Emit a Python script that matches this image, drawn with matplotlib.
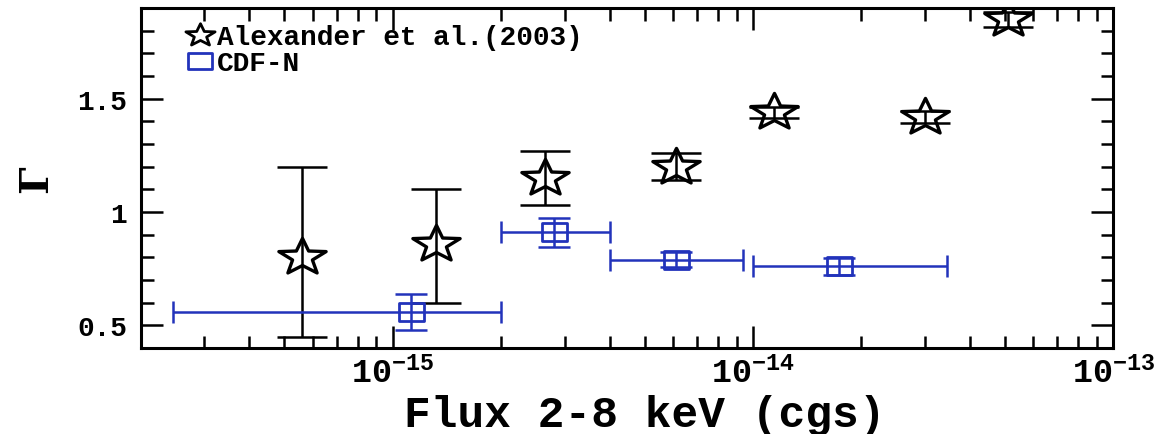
import numpy as np
import matplotlib
matplotlib.use('Agg')
import matplotlib.pyplot as plt
from matplotlib.path import Path
from matplotlib.lines import Line2D
from matplotlib.ticker import LogLocator, FixedLocator, MultipleLocator

plt.rcParams['font.family'] = ['Liberation Mono', 'DejaVu Serif']
plt.rcParams['font.weight'] = 'bold'
plt.rcParams['mathtext.fontset'] = 'custom'
plt.rcParams['mathtext.rm'] = 'Liberation Mono:bold'
plt.rcParams['mathtext.it'] = 'Liberation Mono:bold'
plt.rcParams['mathtext.bf'] = 'Liberation Mono:bold'

# Alexander et al. (2003)
alex_flux = [5.6e-16, 1.32e-15, 2.65e-15, 6.1e-15, 1.14e-14, 3.0e-14, 5.1e-14]
alex_gamma = [0.80, 0.86, 1.15, 1.20, 1.44, 1.42, 1.85]
alex_lo = [0.45, 0.60, 1.03, 1.14, 1.415, 1.395, 1.815]
alex_hi = [1.20, 1.10, 1.27, 1.26, 1.465, 1.445, 1.885]

# CDF-N
cdfn_flux = [1.12e-15, 2.8e-15, 6.1e-15, 1.73e-14]
cdfn_gamma = [0.56, 0.91, 0.79, 0.76]
cdfn_flux_lo = [2.45e-16, 2.0e-15, 4.0e-15, 1.0e-14]
cdfn_flux_hi = [2.0e-15, 4.0e-15, 9.4e-15, 3.45e-14]
cdfn_gerr = [0.08, 0.065, 0.032, 0.038]

blue = '#2233bb'

# stretched star / rectangle markers (the picture is wider than tall)
ang = np.pi / 2 + np.arange(10) * np.pi / 5
rad = np.where(np.arange(10) % 2 == 0, 1.0, 0.42)
sv = np.column_stack([1.3 * rad * np.cos(ang), rad * np.sin(ang)])
star = Path(np.vstack([sv, sv[:1]]), closed=True)
rect = Path([(-0.72, -0.5), (0.72, -0.5), (0.72, 0.5), (-0.72, 0.5), (-0.72, -0.5)], closed=True)

fig = plt.figure(figsize=(11.56, 4.35), dpi=100)
ax = fig.add_axes([0.122, 0.198, 0.841, 0.781])

ag = np.array(alex_gamma)
ax.errorbar(alex_flux, ag, yerr=[ag - np.array(alex_lo), np.array(alex_hi) - ag],
            fmt='none', ecolor='black', elinewidth=1.8, capsize=18, capthick=1.8)
ax.plot(alex_flux, ag, linestyle='none', marker=star, ms=34, mfc='none',
        mec='black', mew=2.4)

cf = np.array(cdfn_flux)
ax.errorbar(cf, cdfn_gamma, xerr=[cf - np.array(cdfn_flux_lo), np.array(cdfn_flux_hi) - cf],
            fmt='none', ecolor=blue, elinewidth=1.8, capsize=8, capthick=1.8)
ax.errorbar(cf, cdfn_gamma, yerr=cdfn_gerr,
            fmt='none', ecolor=blue, elinewidth=1.8, capsize=11.5, capthick=1.8)
ax.plot(cf, cdfn_gamma, linestyle='none', marker=rect, ms=18, mfc='none',
        mec=blue, mew=2.0)

ax.set_xscale('log')
ax.set_xlim(2e-16, 1e-13)
ax.set_ylim(0.4, 1.9)

ax.xaxis.set_major_locator(FixedLocator([1e-15, 1e-14, 1e-13]))
ax.xaxis.set_minor_locator(LogLocator(base=10, subs=np.arange(2, 10), numticks=20))
ax.set_xticklabels([r'$10^{-15}$', r'$10^{-14}$', r'$10^{-13}$'])
ax.yaxis.set_major_locator(FixedLocator([0.5, 1.0, 1.5]))
ax.yaxis.set_minor_locator(MultipleLocator(0.1))
ax.set_yticklabels(['0.5', '1', '1.5'])

ax.tick_params(which='both', direction='in', top=True, right=True, width=1.8)
ax.tick_params(which='major', length=16, labelsize=20, pad=10)
ax.tick_params(which='minor', length=9)
ax.tick_params(axis='x', which='major', pad=6, labelsize=24)
for s in ax.spines.values():
    s.set_linewidth(2.2)

ax.set_xlabel('Flux 2-8 keV (cgs)', fontsize=32, fontweight='bold')
ax.xaxis.set_label_coords(0.518, -0.135)
ax.set_ylabel('Γ', fontsize=28, fontweight='bold', family=['DejaVu Serif'])
ax.yaxis.set_label_coords(-0.088, 0.5)

handles = [Line2D([], [], linestyle='none', marker=star, ms=21, mfc='none', mec='black', mew=2.0),
           Line2D([], [], linestyle='none', marker=rect, ms=17, mfc='none', mec=blue, mew=2.0)]
ax.legend(handles, ['Alexander et al.(2003)', 'CDF-N'], loc='upper left', frameon=False,
          handlelength=1.0, handletextpad=0.1, labelspacing=0.0, borderaxespad=0.0,
          prop={'family': 'Liberation Mono', 'weight': 'bold', 'size': 20},
          bbox_to_anchor=(0.035, 0.985))

fig.savefig('out.png', dpi=100)
